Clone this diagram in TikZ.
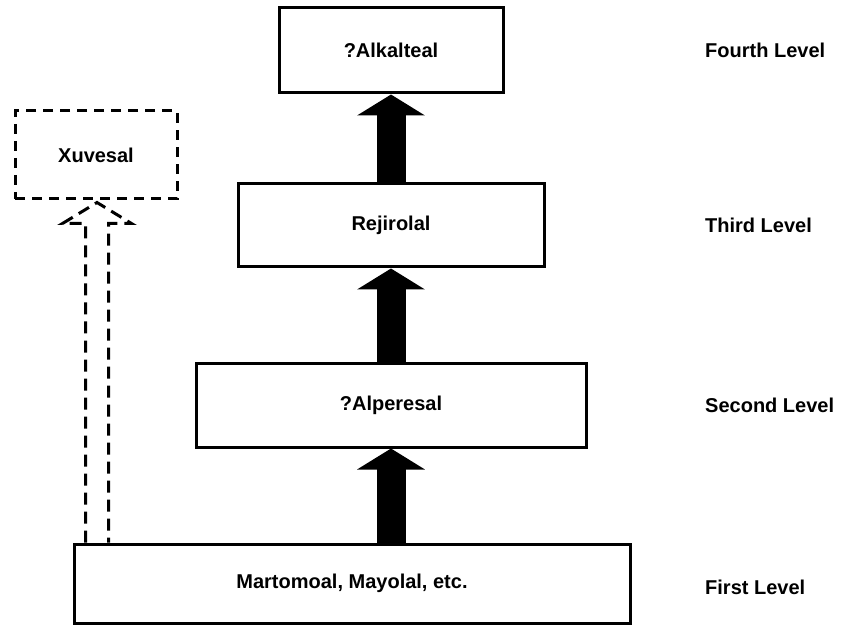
\documentclass[tikz,border=0pt]{standalone}
\usepackage{fontspec}
\setmainfont{Liberation Sans}
\usetikzlibrary{arrows.meta,calc}
\tikzset{
  lvbox/.style={draw=black, line width=3pt, fill=white, rectangle, inner sep=0pt,
    font=\fontsize{20}{24}\selectfont\bfseries},
  dashbox/.style={lvbox, dash pattern=on 10pt off 7pt},
  lvlabel/.style={anchor=west, inner sep=0pt, font=\fontsize{20}{24}\selectfont\bfseries},
  bigarrow/.style={line width=29pt, -{Triangle[width=67pt,length=21pt]}},
  dasharrow/.style={line width=3pt, dash pattern=on 12pt off 7pt}
}
\begin{document}
\begin{tikzpicture}[x=1pt,y=1pt]
\useasboundingbox[fill=white] (0,0) rectangle (844,625);
\node[lvbox, minimum width=224pt, minimum height=85pt] (fourth) at (391,574.5) {?Alkalteal};
\node[lvbox, minimum width=306pt, minimum height=83pt] (third) at (391,399.5) {Rejirolal};
\node[lvbox, minimum width=390pt, minimum height=84pt] (second) at (391,220) {?Alperesal};
\node[lvbox, minimum width=556pt, minimum height=79pt] (first) at (352,41.5) {Martomoal, Mayolal, etc.};
\node[dashbox, minimum width=162pt, minimum height=88pt] (xuv) at (96,470) {Xuvesal};
\node[lvlabel] (lv4) at (705,575) {Fourth Level};
\node[lvlabel] (lv3) at (705,400) {Third Level};
\node[lvlabel] (lv2) at (705,220) {Second Level};
\node[lvlabel] (lv1) at (705,38) {First Level};
\draw[bigarrow] (first.north -| second.south) -- (second.south);
\draw[bigarrow] (second.north) -- (third.south);
\draw[bigarrow] (third.north) -- (fourth.south);
\coordinate (apex) at ($(xuv.south)+(1,-2)$);
\coordinate (la) at ($(apex)+(-11.5,0)$);
\coordinate (ra) at ($(apex)+(11.5,0)$);
\draw[dasharrow] (la |- first.north) -- ($(apex)+(-11.5,-21)$) -- ($(apex)+(-34.5,-21)$) -- (apex)
  -- ($(apex)+(34.5,-21)$) -- ($(apex)+(11.5,-21)$) -- (ra |- first.north);
\end{tikzpicture}
\end{document}
